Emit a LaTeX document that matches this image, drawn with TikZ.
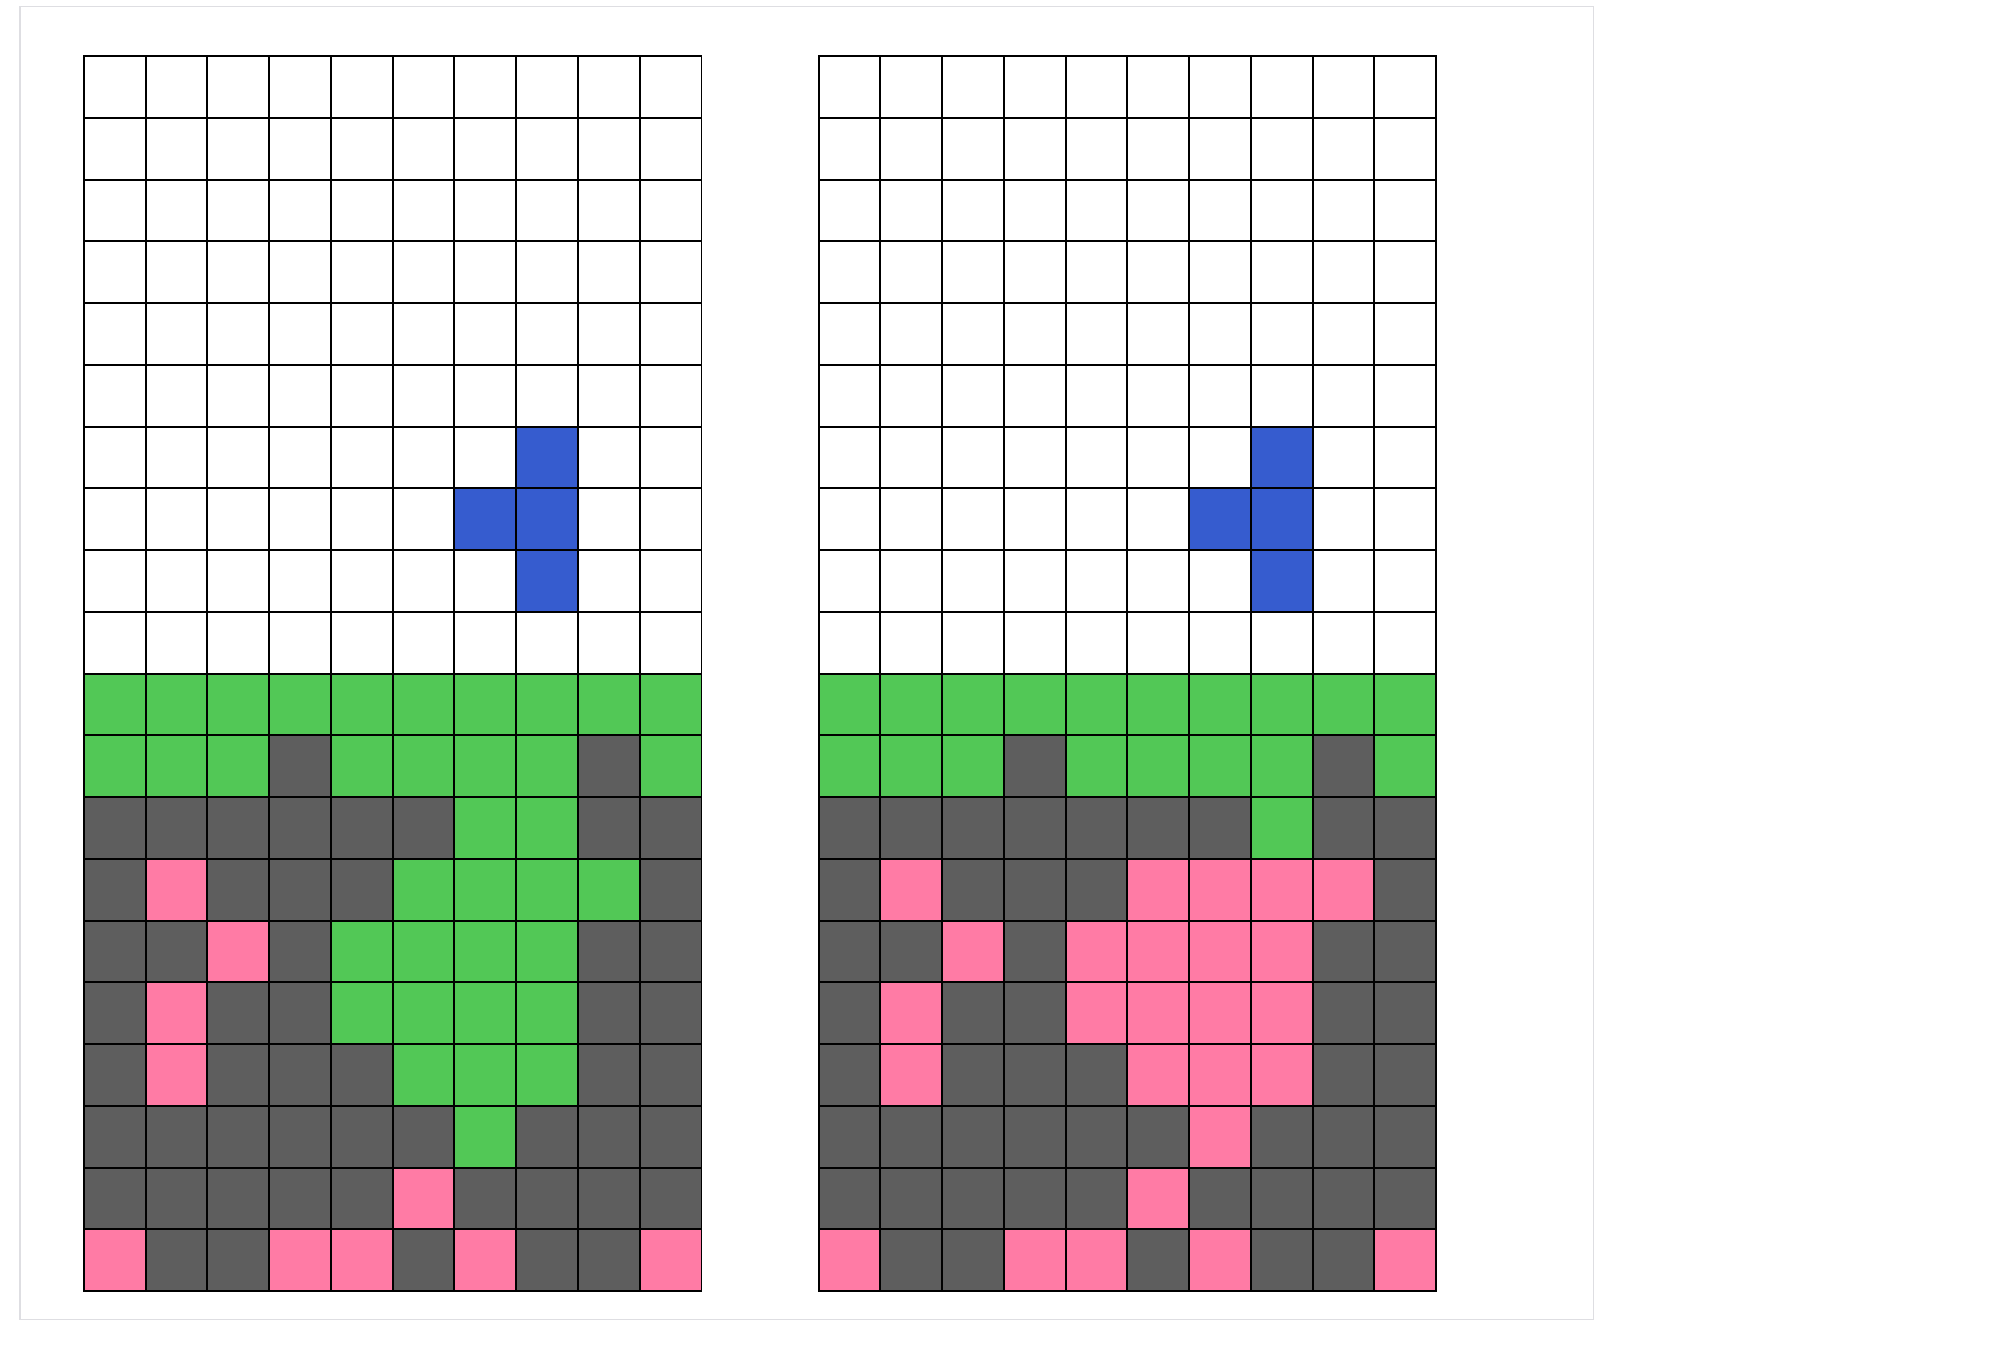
\documentclass[tikz,border=0pt]{standalone}
\definecolor{cW}{RGB}{255, 255, 255}
\definecolor{cB}{RGB}{54, 92, 207}
\definecolor{cG}{RGB}{82, 200, 86}
\definecolor{cD}{RGB}{94, 94, 94}
\definecolor{cP}{RGB}{255, 123, 165}
\definecolor{framegray}{RGB}{222, 222, 226}
\usepackage{tikz}

\begin{document}
\begin{tikzpicture}[
  x=1.2cm, y=1.2cm,
  cell/.style={draw=black, line width=1.1pt},
  board/.style={draw=framegray, line width=0.6pt}
]
  \useasboundingbox[fill=white] (0,0) rectangle (32.372,21.895);
  \draw[board] (0.324,0.53) rectangle (25.81,21.79);

  \foreach \gx/\rows in {1.36/{
      {W,W,W,W,W,W,W,W,W,W},{W,W,W,W,W,W,W,W,W,W},{W,W,W,W,W,W,W,W,W,W},
      {W,W,W,W,W,W,W,W,W,W},{W,W,W,W,W,W,W,W,W,W},{W,W,W,W,W,W,W,W,W,W},
      {W,W,W,W,W,W,W,B,W,W},{W,W,W,W,W,W,B,B,W,W},{W,W,W,W,W,W,W,B,W,W},
      {W,W,W,W,W,W,W,W,W,W},{G,G,G,G,G,G,G,G,G,G},{G,G,G,D,G,G,G,G,D,G},
      {D,D,D,D,D,D,G,G,D,D},{D,P,D,D,D,G,G,G,G,D},{D,D,P,D,G,G,G,G,D,D},
      {D,P,D,D,G,G,G,G,D,D},{D,P,D,D,D,G,G,G,D,D},{D,D,D,D,D,D,G,D,D,D},
      {D,D,D,D,D,P,D,D,D,D},{P,D,D,P,P,D,P,D,D,P}},
    13.255/{
      {W,W,W,W,W,W,W,W,W,W},{W,W,W,W,W,W,W,W,W,W},{W,W,W,W,W,W,W,W,W,W},
      {W,W,W,W,W,W,W,W,W,W},{W,W,W,W,W,W,W,W,W,W},{W,W,W,W,W,W,W,W,W,W},
      {W,W,W,W,W,W,W,B,W,W},{W,W,W,W,W,W,B,B,W,W},{W,W,W,W,W,W,W,B,W,W},
      {W,W,W,W,W,W,W,W,W,W},{G,G,G,G,G,G,G,G,G,G},{G,G,G,D,G,G,G,G,D,G},
      {D,D,D,D,D,D,D,G,D,D},{D,P,D,D,D,P,P,P,P,D},{D,D,P,D,P,P,P,P,D,D},
      {D,P,D,D,P,P,P,P,D,D},{D,P,D,D,D,P,P,P,D,D},{D,D,D,D,D,D,P,D,D,D},
      {D,D,D,D,D,P,D,D,D,D},{P,D,D,P,P,D,P,D,D,P}}}
  {
    \foreach \row [count=\r from 0] in \rows {
      \foreach \c [count=\k from 0] in \row {
        \draw[cell, fill=c\c] ({\gx+\k},{20.986-\r}) rectangle ++(1,-1);
      }
    }
  }
\end{tikzpicture}
\end{document}
